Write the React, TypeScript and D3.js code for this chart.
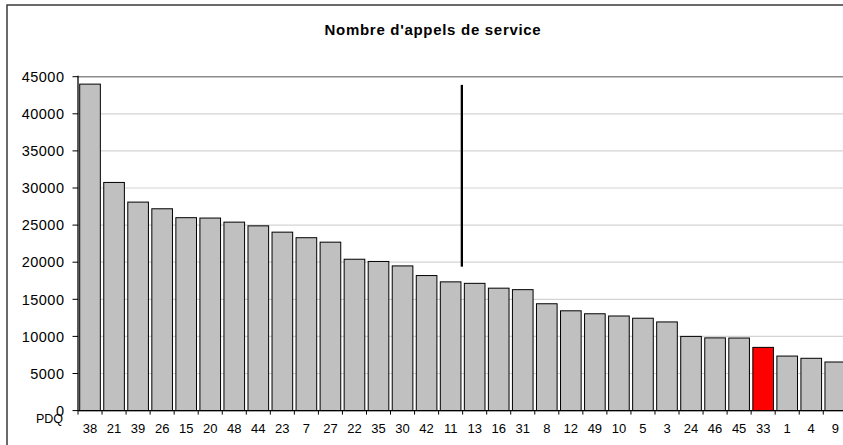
import React from "react";
import * as d3 from "d3";

const categories = ["38","21","39","26","15","20","48","44","23","7","27","22","35","30","42","11","13","16","31","8","12","49","10","5","3","24","46","45","33","1","4","9"];
const values = [44000,30750,28100,27200,26000,25950,25400,24900,24050,23300,22700,20400,20100,19500,18200,17350,17150,16500,16300,14400,13450,13050,12750,12450,11950,10000,9800,9780,8520,7350,7050,6550];
const highlighted = ["33"];
const yTicks = [0,5000,10000,15000,20000,25000,30000,35000,40000,45000];
const title = "Nombre d'appels de service";
const xAxisName = "PDQ";
const markerAfter = "11";
const markerRange = [19400, 43900];

const W = 843, H = 445;
const left = 78, top = 76.7, bottom = 410.6, rightEnd = 847.3;
const font = "'Liberation Sans', Arial, sans-serif";

export default function App() {
  const x = d3.scaleBand<string>().domain(categories).range([left, rightEnd]).padding(0);
  const y = d3.scaleLinear().domain([0, 45000]).range([bottom, top]);
  const step = x.step();
  const mx = (x(markerAfter) as number) + step - 0.8;
  return (
    <svg width={W} height={H} style={{ position: "absolute", left: 0, top: 0, background: "#fff" }}>
      <rect x={7} y={5} width={W + 20} height={H + 20} fill="#fff" stroke="#3a3a3a" strokeWidth={1.5} />
      <text x={433} y={35} textAnchor="middle" fontFamily={font} fontWeight="bold" fontSize={15} letterSpacing={0.7} fill="#000">{title}</text>
      {yTicks.map((t) => (
        <line key={"g" + t} x1={left} x2={W} y1={y(t)} y2={y(t)}
          stroke={t === 45000 ? "#8c8c8c" : "#d4d4d4"} strokeWidth={t === 45000 ? 1.5 : 1.2} />
      ))}
      {categories.map((c, i) => (
        <rect key={"b" + c} x={(x(c) as number) + 1.7} y={y(values[i])} width={step - 3.4}
          height={bottom - y(values[i])}
          fill={highlighted.includes(c) ? "#ff0000" : "#c0c0c0"} stroke="#000" strokeWidth={1} />
      ))}
      <line x1={mx} x2={mx} y1={y(markerRange[1])} y2={y(markerRange[0])} stroke="#000" strokeWidth={2.3} />
      <line x1={left} x2={left} y1={top - 1} y2={bottom} stroke="#000" strokeWidth={1.3} />
      <line x1={left} x2={W} y1={bottom} y2={bottom} stroke="#000" strokeWidth={1.3} />
      {yTicks.map((t) => (
        <g key={"yt" + t}>
          <line x1={left - 5.5} x2={left} y1={y(t)} y2={y(t)} stroke="#000" strokeWidth={1} />
          <text x={64.5} y={y(t)} dy="0.36em" textAnchor="end" fontFamily={font} fontSize={14.5} letterSpacing={0.5} fill="#000">{t}</text>
        </g>
      ))}
      {categories.map((c, i) => (
        <g key={"xt" + c}>
          <line x1={(x(c) as number) + step} x2={(x(c) as number) + step} y1={bottom} y2={bottom + 4} stroke="#000" strokeWidth={1} />
          <text x={(x(c) as number) + step / 2} y={432.5} textAnchor="middle" fontFamily={font} fontSize={13} fill="#000">{c}</text>
        </g>
      ))}
      <line x1={left} x2={left} y1={bottom} y2={bottom + 4} stroke="#000" strokeWidth={1} />
      <text x={36} y={423} fontFamily={font} fontSize={12.5} fill="#000">{xAxisName}</text>
    </svg>
  );
}
